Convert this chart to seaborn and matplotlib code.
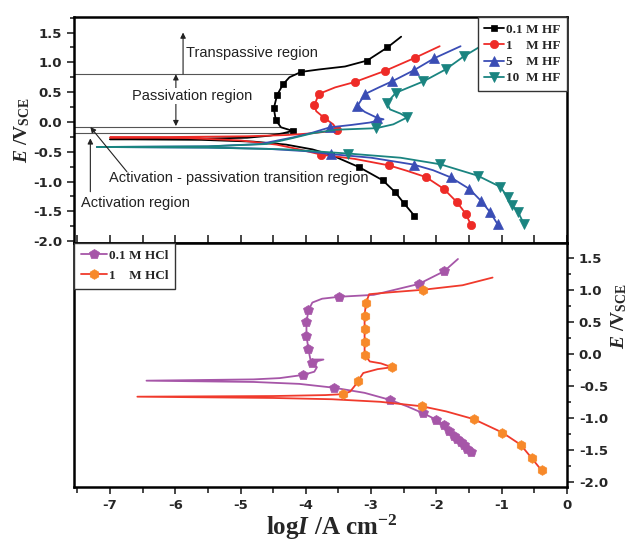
import matplotlib
matplotlib.use('Agg')
import matplotlib.pyplot as plt
from matplotlib.ticker import MultipleLocator, FormatStrFormatter
import seaborn as sns

# ---- top panel: HF solutions (log I, E), traced from cathodic end to anodic end
hf01_x = [-2.34, -2.50, -2.63, -2.82, -3.18, -3.62, -3.90, -4.30, -4.80, -5.60, -7.00, -5.60, -4.90,
          -4.55, -4.35, -4.20, -4.38, -4.46, -4.49, -4.44, -4.35, -4.25, -4.07, -3.80, -3.40, -3.06,
          -2.75, -2.54]
hf01_e = [-1.57, -1.36, -1.18, -0.98, -0.76, -0.55, -0.46, -0.38, -0.33, -0.30, -0.29, -0.28, -0.265,
          -0.23, -0.19, -0.15, -0.09, 0.03, 0.23, 0.45, 0.63, 0.75, 0.84, 0.88, 0.93, 1.03,
          1.25, 1.43]
hf01_marks = [0, 1, 2, 3, 4, 5, 15, 17, 18, 19, 20, 22, 25, 26]

hf1_x = [-1.47, -1.55, -1.69, -1.89, -2.16, -2.45, -2.72, -3.25, -3.76, -4.10, -4.45, -5.00, -5.80,
         -7.00, -5.80, -4.90, -4.30, -3.90, -3.52, -3.58, -3.72, -3.84, -3.87, -3.80, -3.55, -3.25,
         -2.78, -2.33, -1.95]
hf1_e = [-1.73, -1.54, -1.34, -1.12, -0.925, -0.82, -0.73, -0.62, -0.55, -0.46, -0.38, -0.31, -0.27,
         -0.26, -0.25, -0.24, -0.22, -0.19, -0.14, -0.04, 0.07, 0.18, 0.28, 0.47, 0.58, 0.67,
         0.86, 1.075, 1.27]
hf1_marks = [0, 1, 2, 3, 4, 6, 8, 18, 20, 22, 23, 25, 26, 27]

hf5_x = [-1.06, -1.18, -1.32, -1.50, -1.78, -2.05, -2.35, -3.00, -3.61, -4.00, -4.60, -5.50, -7.20,
         -5.50, -4.70, -4.20, -3.90, -3.63, -3.30, -3.02, -2.81, -2.91, -3.10, -3.21, -3.15, -3.09,
         -2.88, -2.68, -2.34, -2.03, -1.63]
hf5_e = [-1.72, -1.51, -1.32, -1.12, -0.93, -0.81, -0.715, -0.60, -0.54, -0.49, -0.45, -0.43, -0.42,
         -0.41, -0.37, -0.26, -0.18, -0.09, -0.05, -0.01, 0.045, 0.07, 0.17, 0.27, 0.37, 0.47,
         0.58, 0.68, 0.87, 1.07, 1.27]
hf5_marks = [0, 1, 2, 3, 4, 6, 8, 17, 21, 23, 25, 27, 28, 29]

hf10_x = [-0.66, -0.75, -0.84, -0.91, -1.02, -1.37, -1.94, -2.55, -3.35, -4.30, -5.50, -7.20, -5.50,
          -4.60, -4.20, -3.90, -3.53, -2.92, -2.66, -2.45, -2.55, -2.71, -2.76, -2.62, -2.20, -1.86,
          -1.58, -1.20]
hf10_e = [-1.71, -1.51, -1.40, -1.26, -1.09, -0.90, -0.71, -0.60, -0.53, -0.46, -0.43, -0.42, -0.41,
          -0.37, -0.27, -0.19, -0.13, -0.105, -0.04, 0.075, 0.14, 0.21, 0.32, 0.49, 0.68, 0.88,
          1.10, 1.35]
hf10_marks = [0, 1, 2, 3, 4, 5, 6, 8, 17, 19, 22, 23, 24, 25, 26]

# ---- bottom panel: HCl solutions
hcl01_x = [-1.47, -1.53, -1.58, -1.63, -1.68, -1.73, -1.80, -1.89, -2.00, -2.20, -2.45, -2.71, -3.10,
           -3.57, -4.10, -4.80, -6.44, -4.80, -4.40, -4.04, -3.87, -3.83, -3.91, -3.73, -3.93, -3.96,
           -3.99, -3.99, -3.96, -3.90, -3.75, -3.49, -2.96, -2.27, -1.88, -1.67]
hcl01_e = [-1.54, -1.48, -1.43, -1.38, -1.33, -1.28, -1.20, -1.11, -1.03, -0.93, -0.82, -0.72, -0.61,
           -0.53, -0.47, -0.44, -0.42, -0.40, -0.38, -0.33, -0.28, -0.21, -0.14, -0.09, -0.09, 0.07,
           0.28, 0.49, 0.68, 0.80, 0.86, 0.89, 0.92, 1.09, 1.29, 1.48]
hcl01_marks = [0, 1, 2, 3, 4, 5, 6, 7, 8, 9, 11, 13, 19, 22, 25, 26, 27, 28, 31, 33, 34]

hcl1_x = [-0.39, -0.54, -0.71, -0.99, -1.43, -1.85, -2.22, -2.86, -3.60, -4.50, -6.58, -4.50, -3.70,
          -3.43, -3.32, -3.25, -3.20, -3.12, -2.90, -2.68, -2.85, -3.02, -3.10, -3.10, -3.10, -3.10,
          -3.08, -3.03, -2.70, -2.20, -1.60, -1.14]
hcl1_e = [-1.82, -1.63, -1.42, -1.23, -1.02, -0.90, -0.82, -0.75, -0.71, -0.69, -0.67, -0.66, -0.645,
          -0.63, -0.59, -0.50, -0.42, -0.30, -0.24, -0.21, -0.15, -0.12, -0.016, 0.19, 0.39, 0.59,
          0.79, 0.93, 0.96, 1.00, 1.07, 1.19]
hcl1_marks = [0, 1, 2, 3, 4, 6, 13, 16, 19, 22, 23, 24, 25, 26, 29]

hf_labels = ['0.1 M HF', '1    M HF', '5    M HF', '10  M HF']
hcl_labels = ['0.1 M HCl', '1    M HCl']

# region boundaries (E) drawn as thin guide lines and where they stop
bound_e = [0.805, -0.083, -0.19]
bound_end = [-4.15, -4.40, -4.25]

sns.set_style('ticks')
plt.rcParams['font.family'] = ['Liberation Sans', 'DejaVu Sans']
plt.rcParams['axes.unicode_minus'] = False
plt.rcParams['mathtext.fontset'] = 'custom'
plt.rcParams['mathtext.rm'] = 'Liberation Serif:bold'
plt.rcParams['mathtext.it'] = 'Liberation Serif:italic:bold'
plt.rcParams['mathtext.bf'] = 'Liberation Serif:bold'

fig = plt.figure(figsize=(6.3, 5.42), dpi=100)
ax1 = fig.add_axes([0.1175, 0.5517, 0.7825, 0.4169])
ax2 = fig.add_axes([0.1175, 0.1015, 0.7825, 0.4502])


def draw(ax, x, e, marks, color, mcolor, marker, ms):
    sns.lineplot(x=x, y=e, ax=ax, sort=False, estimator=None, color=color, lw=1.3,
                 marker=marker, markevery=marks, markersize=ms, markerfacecolor=mcolor,
                 markeredgecolor=mcolor, markeredgewidth=0.5, legend=False)
    return ax.lines[-1]


h1 = [
    draw(ax1, hf01_x, hf01_e, hf01_marks, 'black', 'black', 's', 5),
    draw(ax1, hf1_x, hf1_e, hf1_marks, '#ee2b27', '#ee2b27', 'o', 6),
    draw(ax1, hf5_x, hf5_e, hf5_marks, '#3a4db5', '#3a4db5', '^', 6.5),
    draw(ax1, hf10_x, hf10_e, hf10_marks, '#1a8480', '#1a8480', 'v', 6.5),
]
h2 = [
    draw(ax2, hcl01_x, hcl01_e, hcl01_marks, '#a656a8', '#a656a8', 'p', 7),
    draw(ax2, hcl1_x, hcl1_e, hcl1_marks, '#f03a2c', '#f7892a', 'h', 7),
]

xlim = (-7.55, 0)
for ax in (ax1, ax2):
    ax.set_xlim(*xlim)
    ax.xaxis.set_major_locator(MultipleLocator(1))
    ax.xaxis.set_minor_locator(MultipleLocator(0.5))
    ax.yaxis.set_major_locator(MultipleLocator(0.5))
    ax.yaxis.set_minor_locator(MultipleLocator(0.25))
    ax.yaxis.set_major_formatter(FormatStrFormatter('%.1f'))
    for s in ax.spines.values():
        s.set_visible(True)
        s.set_linewidth(1.8)
        s.set_color('black')
    ax.set_xlabel('')
    ax.set_ylabel('')

ax1.set_ylim(-2.03, 1.76)
ax2.set_ylim(-2.08, 1.73)

ax1.tick_params(axis='y', which='both', left=True, right=False, direction='out', labelleft=True,
                labelsize=9.5, width=1.2)
ax1.tick_params(axis='y', which='major', length=5)
ax1.tick_params(axis='y', which='minor', length=3)
ax1.tick_params(axis='x', which='both', bottom=True, top=False, direction='in', labelbottom=False,
                length=6, width=1.2)

ax2.tick_params(axis='y', which='both', left=False, right=True, direction='out', labelleft=False,
                labelright=True, labelsize=9.5, width=1.2)
ax2.tick_params(axis='y', which='major', length=5)
ax2.tick_params(axis='y', which='minor', length=3)
ax2.tick_params(axis='x', which='both', bottom=True, top=False, direction='out', labelbottom=True,
                labelsize=9.5, width=1.2)
ax2.tick_params(axis='x', which='major', length=5)
ax2.tick_params(axis='x', which='minor', length=4)
ax2.xaxis.set_major_formatter(FormatStrFormatter('%d'))

for lab in ax1.get_yticklabels() + ax2.get_yticklabels() + ax2.get_xticklabels():
    lab.set_fontweight('bold')
    lab.set_family('DejaVu Sans')

ylab = r'$\mathit{E}\ \mathrm{/V}_{\mathrm{SCE}}$'
ax1.set_ylabel(ylab, fontsize=14)
ax1.yaxis.set_label_coords(-0.085, 0.5)
ax2.yaxis.set_label_position('right')
ax2.set_ylabel(ylab, fontsize=14, rotation=90)
ax2.yaxis.set_label_coords(1.085, 0.70)
ax2.set_xlabel(r'$\mathrm{log}\mathit{I}\ \mathrm{/A\ cm}^{\mathrm{-2}}$', fontsize=18)
ax2.xaxis.set_label_coords(0.523, -0.105)

# region annotations
ax1.hlines(bound_e, xlim[0], bound_end, color='#555555', lw=0.8, zorder=1)
arrow = dict(arrowstyle='-|>', color='#222222', lw=0.8, shrinkA=0, shrinkB=0, mutation_scale=8)
ax1.annotate('', xy=(-5.88, 1.50), xytext=(-5.88, 0.805), arrowprops=arrow)
ax1.annotate('', xy=(-5.99, 0.80), xytext=(-5.99, -0.07),
             arrowprops=dict(arrow, arrowstyle='<|-|>'))
ax1.annotate('', xy=(-7.30, -0.085), xytext=(-6.74, -0.835), arrowprops=arrow)
ax1.annotate('', xy=(-7.30, -0.275), xytext=(-7.30, -1.17), arrowprops=arrow)

tkw = dict(fontsize=10.5, color='#222222', va='center', zorder=5)
ax1.text(-5.83, 1.16, 'Transpassive region', ha='left', **tkw)
ax1.text(-5.74, 0.435, 'Passivation region', ha='center',
         bbox=dict(facecolor='white', edgecolor='none', pad=1), **tkw)
ax1.text(-5.03, -0.946, 'Activation - passivation transition region', ha='center', **tkw)
ax1.text(-7.45, -1.356, 'Activation region', ha='left', **tkw)

leg_font = {'family': 'Liberation Serif', 'weight': 'bold', 'size': 9.5}
lg1 = ax1.legend(h1, hf_labels, loc='upper right', bbox_to_anchor=(1, 1), borderaxespad=0,
                 prop=leg_font, frameon=True, fancybox=False, framealpha=1, edgecolor='#333333',
                 handlelength=1.5, handletextpad=0.15, labelspacing=0.3, borderpad=0.5)
lg1.get_frame().set_linewidth(1.0)
lg1.set_zorder(10)
lg2 = ax2.legend(h2, hcl_labels, loc='upper left', bbox_to_anchor=(0, 1), borderaxespad=0,
                 prop=leg_font, frameon=True, fancybox=False, framealpha=1, edgecolor='#333333',
                 handlelength=2.0, handletextpad=0.15, labelspacing=0.6, borderpad=0.5)
lg2.get_frame().set_linewidth(1.0)

fig.savefig('out.png', dpi=100)
plt.close(fig)
